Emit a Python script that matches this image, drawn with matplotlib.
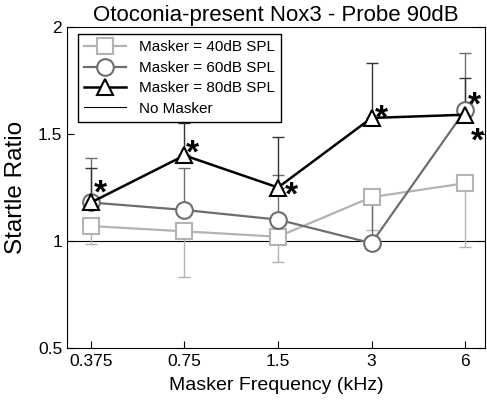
import numpy as np
import matplotlib
matplotlib.use('Agg')
import matplotlib.pyplot as plt

plt.rcParams['font.family'] = ['Liberation Sans', 'DejaVu Sans']

# Data
freqs = [0.375, 0.75, 1.5, 3, 6]
freq_labels = ['0.375', '0.75', '1.5', '3', '6']

m40 = [1.07, 1.045, 1.02, 1.205, 1.27]
m40_err_down = [0.085, 0.215, 0.12, 0.155, 0.30]

m60 = [1.18, 1.145, 1.10, 0.99, 1.61]
m60_err_up = [0.21, 0.195, 0.21, 0.25, 0.27]

m80 = [1.18, 1.40, 1.25, 1.575, 1.59]
m80_err_up = [0.16, 0.15, 0.235, 0.255, 0.17]

# asterisk offsets (points) relative to the 80dB markers
star_x = [0.375, 0.75, 1.5, 3, 6, 6]
star_y = [1.18, 1.40, 1.25, 1.575, 1.59, 1.59]
star_off = [(7, 6), (6, 1), (10, -6), (7, -1), (7, 6), (9, -20)]

c40, c60, c80 = '#b3b3b3', '#6e6e6e', 'black'

fig = plt.figure(figsize=(4.87, 4.0), dpi=100)
ax = fig.add_axes([0.1376, 0.13, 0.996 - 0.1376, 0.9325 - 0.13])
ax.set_xscale('log', base=2)

# one-sided error bars
ax.errorbar(freqs, m40, yerr=[m40_err_down, [0] * 5], fmt='none', ecolor=c40,
            elinewidth=1, capsize=4, capthick=1, zorder=1)
ax.errorbar(freqs, m60, yerr=[[0] * 5, m60_err_up], fmt='none', ecolor=c60,
            elinewidth=1, capsize=4, capthick=1, zorder=1)
ax.errorbar(freqs, m80, yerr=[[0] * 5, m80_err_up], fmt='none', ecolor='#333333',
            elinewidth=1, capsize=4, capthick=1, zorder=1)

ax.axhline(1, color='black', lw=0.8, zorder=0.5, label='No Masker')
ax.plot(freqs, m40, '-s', color=c40, lw=1.6, ms=11, mfc='white', mec=c40, mew=1.5,
        label='Masker = 40dB SPL', zorder=2)
ax.plot(freqs, m60, '-o', color=c60, lw=1.6, ms=12, mfc='white', mec=c60, mew=1.5,
        label='Masker = 60dB SPL', zorder=3)
ax.plot(freqs, m80, '-^', color=c80, lw=1.8, ms=12, mfc='white', mec=c80, mew=1.5,
        label='Masker = 80dB SPL', zorder=4)

for x, y, off in zip(star_x, star_y, star_off):
    ax.annotate('*', (x, y), xytext=off, textcoords='offset points',
                ha='center', va='center', fontsize=24, fontweight='bold', zorder=5)

ax.set_xlim(0.314, 6.96)
ax.set_ylim(0.5, 2)
ax.set_xticks(freqs)
ax.set_xticklabels(freq_labels)
ax.minorticks_off()
ax.set_yticks([0.5, 1, 1.5, 2])
ax.set_yticklabels(['0.5', '1', '1.5', '2'])
ax.tick_params(direction='in', length=5, labelsize=12.5, right=True)
ax.tick_params(axis='x', pad=4)

ax.set_title('Otoconia-present Nox3 - Probe 90dB', fontsize=16, pad=4)
ax.set_xlabel('Masker Frequency (kHz)', fontsize=14, labelpad=6)
ax.set_ylabel('Startle Ratio', fontsize=17.5, labelpad=8)

h, l = ax.get_legend_handles_labels()
order = [1, 2, 3, 0]
leg = ax.legend([h[i] for i in order], [l[i] for i in order], loc='upper left',
                bbox_to_anchor=(0.026, 0.978), borderaxespad=0, fontsize=11,
                numpoints=1, handlelength=2.75, labelspacing=0.42, fancybox=False,
                framealpha=1, edgecolor='black', borderpad=0.42)
leg.get_frame().set_linewidth(1)

plt.savefig('out.png', dpi=100)
